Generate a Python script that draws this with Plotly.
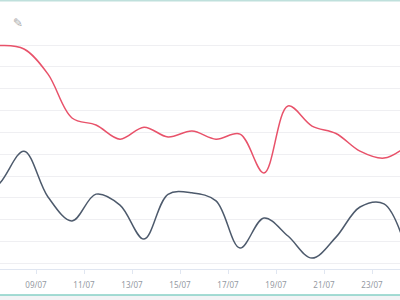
import plotly.graph_objects as go
import pandas as pd

# Daily points (noon), including one point on each side just outside the visible window
dates = pd.date_range("2023-07-06 12:00", periods=19, freq="D")
red_values = [99.1, 99.8, 98.2, 86.7, 66.6, 63.4, 56.9, 62.4, 57.9, 60.6,
              56.9, 59.2, 41.4, 72.1, 62.9, 59.5, 51.4, 48.2, 54.2]
dark_values = [26.7, 36.8, 51.4, 30.4, 19.4, 31.7, 26.7, 11.1, 31.6, 32.3,
               28.6, 7.0, 20.8, 12.5, 2.4, 12.0, 25.8, 27.2, 3.8]

tick_vals = ["2023-07-09", "2023-07-11", "2023-07-13", "2023-07-15",
             "2023-07-17", "2023-07-19", "2023-07-21", "2023-07-23"]
tick_text = ["09/07", "11/07", "13/07", "15/07", "17/07", "19/07", "21/07", "23/07"]
grid_vals = [0, 10, 20, 30, 40, 50, 60, 70, 80, 90, 100]

fig = go.Figure()
fig.add_trace(go.Scatter(x=dates, y=red_values, mode="lines",
                         line=dict(color="#e8526a", width=1.5, shape="spline", smoothing=1.0),
                         showlegend=False, hoverinfo="skip"))
fig.add_trace(go.Scatter(x=dates, y=dark_values, mode="lines",
                         line=dict(color="#4d5a6c", width=1.5, shape="spline", smoothing=1.0),
                         showlegend=False, hoverinfo="skip"))

fig.update_layout(
    width=400, height=300,
    margin=dict(l=0, r=0, t=30, b=31),
    paper_bgcolor="white", plot_bgcolor="white",
    xaxis=dict(range=["2023-07-07 12:00", "2023-07-24 04:00"],
               tickvals=tick_vals, ticktext=tick_text,
               showgrid=False, zeroline=False,
               showline=True, linecolor="#e0e6f1", linewidth=1,
               ticks="outside", ticklen=4, tickcolor="#e0e6f1",
               ticklabelstandoff=4,
               tickfont=dict(family="Noto Sans", size=8, color="#959aa3")),
    yaxis=dict(range=[-2.6, 106.9], tickvals=grid_vals, showticklabels=False,
               showgrid=True, gridcolor="#efeff2", gridwidth=1,
               zeroline=False, showline=False),
    shapes=[
        dict(type="rect", xref="paper", yref="paper", x0=-0.01, x1=1.01,
             y0=-0.25, y1=-0.1088, fillcolor="#f2f3f5", line=dict(width=0), layer="below"),
        dict(type="line", xref="paper", yref="paper", x0=-0.01, x1=1.01,
             y0=-0.1088, y1=-0.1088, line=dict(color="#86d0c6", width=1.5)),
        dict(type="line", xref="paper", yref="paper", x0=-0.01, x1=1.01,
             y0=1.1235, y1=1.1235, line=dict(color="#bfe0dc", width=2)),
    ],
    annotations=[
        dict(text="✎", xref="paper", yref="paper", x=0.028, y=1.067,
             showarrow=False, font=dict(family="DejaVu Sans", size=12, color="#a8a8a8"))
    ],
)

fig.write_html("out.html")
